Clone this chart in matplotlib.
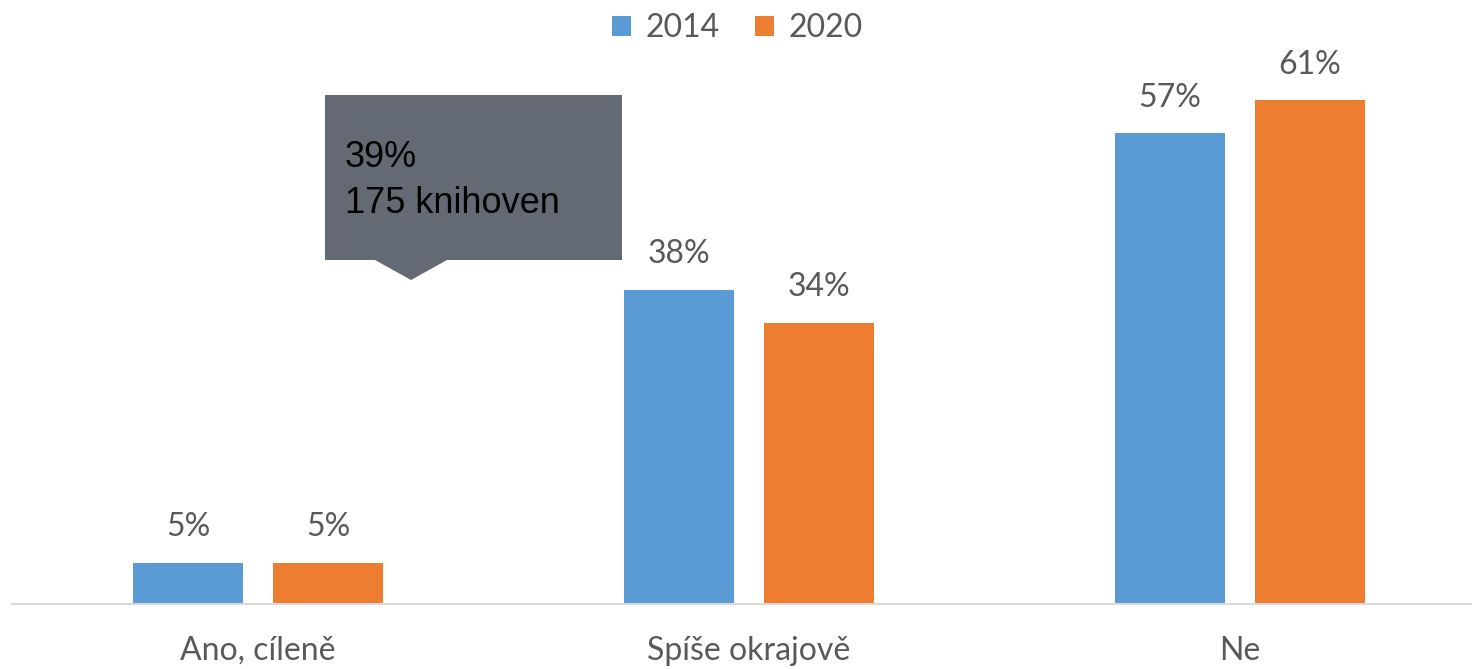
""" Grouped bar chart 2014 vs 2020 with a tooltip box
"""

import matplotlib
import matplotlib.pyplot as plt
from matplotlib.patches import Polygon
import numpy as np

matplotlib.use("Agg")
plt.rcParams["font.family"] = ["Lato", "DejaVu Sans"]

# data
categories = ["Ano, cíleně", "Spíše okrajově", "Ne"]
years = ["2014", "2020"]
values_2014 = [5, 38, 57]
values_2020 = [5, 34, 61]
tooltip_lines = ["39%", "175 knihoven"]

colors = ["#5B9BD5", "#ED7D31"]
text_color = "#595959"
W, H = 1472, 669
dpi = 100

fig = plt.figure(figsize=(W / dpi, H / dpi), dpi=dpi)
ax = fig.add_axes([12 / W, (H - 604) / H, 1 - 12 / W, (604 - 60) / H])

x = np.arange(len(categories))
width = 110 / 491
offset = 70 / 491
series = [values_2014, values_2020]
bars = []
for i, vals in enumerate(series):
    b = ax.bar(x + (i * 2 - 1) * offset, vals, width, color=colors[i],
               label=years[i], zorder=2)
    bars.append(b)
    for rect, v in zip(b, vals):
        ax.annotate(f"{v}%", (rect.get_x() + rect.get_width() / 2, v),
                    xytext=(0, 15), textcoords="offset points",
                    ha="center", va="bottom", fontsize=23, color=text_color)

ax.set_xlim(-0.501, 2.473)
ax.set_ylim(0, 65.9)
ax.set_xticks(x)
ax.set_xticklabels(categories, fontsize=23, color=text_color)
ax.tick_params(axis="x", length=0, pad=23)
ax.set_yticks([])
for side in ["top", "right", "left"]:
    ax.spines[side].set_visible(False)
ax.spines["bottom"].set_color("#D9D9D9")
ax.spines["bottom"].set_linewidth(1.5)

# legend
fig.legend(handles=bars, labels=years, loc="center", ncol=2,
           bbox_to_anchor=(737 / W, 1 - 28 / H), frameon=False,
           fontsize=23, labelcolor=text_color, handlelength=0.6,
           handleheight=0.6, handletextpad=0.45, columnspacing=1.1)

# tooltip box (figure pixel coordinates)
pts = [(325, 95), (622, 95), (622, 260), (447, 260), (411, 280),
       (375, 260), (325, 260)]
poly = Polygon([(px / W, 1 - py / H) for px, py in pts], closed=True,
               transform=fig.transFigure, facecolor="#646A73",
               edgecolor="none", zorder=5)
fig.patches.append(poly)
for line, base in zip(tooltip_lines, [167, 213]):
    fig.text(345 / W, 1 - base / H, line, ha="left", va="baseline",
             fontsize=26, color="black", family=["Liberation Sans"],
             zorder=6)

fig.savefig("out.png", dpi=dpi)
